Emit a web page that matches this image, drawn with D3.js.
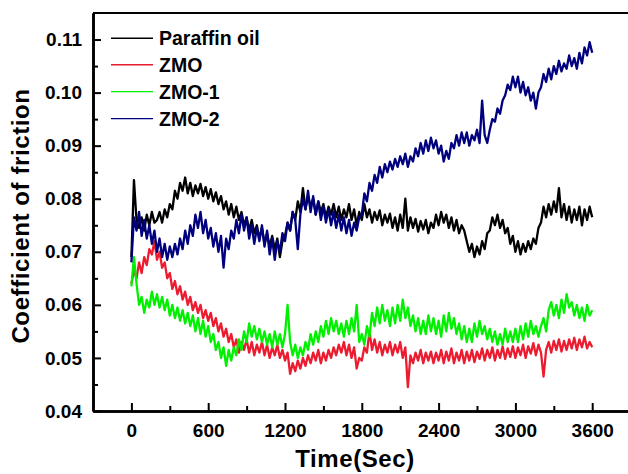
<!DOCTYPE html>
<html><head><meta charset="utf-8">
<script src="https://cdn.jsdelivr.net/npm/d3@7/dist/d3.min.js"></script>
<style>
html,body{margin:0;padding:0;background:#fff;}
svg{display:block;}
text{font-family:"Liberation Sans",Arial,sans-serif;font-weight:bold;fill:#000;}
</style></head>
<body>
<svg id="chart" width="628" height="474"></svg>
<script>
// sample step (s) for all series
const timeStep = 20;
const seriesNames = ["Paraffin oil", "ZMO", "ZMO-1", "ZMO-2"];
const seriesColors = ["#000000", "#ec1c30", "#00f000", "#00007f"];
const xTicks = [0, 600, 1200, 1800, 2400, 3000, 3600];
const yTicks = [0.04, 0.05, 0.06, 0.07, 0.08, 0.09, 0.10, 0.11];

const paraffin = [
0.0690,0.0835,0.0760,0.0745,0.0765,0.0740,0.0770,0.0750,0.0775,0.0755,
0.0760,0.0775,0.0755,0.0780,0.0765,0.0790,0.0780,0.0815,0.0800,0.0830,
0.0815,0.0840,0.0810,0.0830,0.0805,0.0825,0.0810,0.0828,0.0805,0.0822,
0.0800,0.0818,0.0795,0.0812,0.0790,0.0805,0.0780,0.0795,0.0770,0.0790,
0.0765,0.0785,0.0760,0.0775,0.0750,0.0765,0.0740,0.0760,0.0735,0.0750,
0.0725,0.0745,0.0715,0.0735,0.0710,0.0730,0.0705,0.0725,0.0690,0.0720,
0.0730,0.0755,0.0740,0.0775,0.0760,0.0795,0.0775,0.0820,0.0780,0.0805,
0.0785,0.0800,0.0770,0.0795,0.0775,0.0790,0.0765,0.0785,0.0770,0.0790,
0.0765,0.0785,0.0760,0.0780,0.0765,0.0790,0.0760,0.0780,0.0750,0.0775,
0.0760,0.0790,0.0765,0.0780,0.0755,0.0775,0.0760,0.0778,0.0750,0.0770,
0.0755,0.0772,0.0745,0.0765,0.0740,0.0770,0.0745,0.0800,0.0740,0.0765,
0.0745,0.0762,0.0738,0.0758,0.0742,0.0760,0.0735,0.0755,0.0745,0.0770,
0.0750,0.0775,0.0755,0.0770,0.0745,0.0765,0.0740,0.0760,0.0735,0.0750,
0.0740,0.0720,0.0700,0.0715,0.0690,0.0710,0.0695,0.0720,0.0705,0.0735,
0.0740,0.0765,0.0750,0.0770,0.0745,0.0760,0.0735,0.0745,0.0715,0.0730,
0.0700,0.0720,0.0695,0.0715,0.0700,0.0720,0.0705,0.0725,0.0715,0.0745,
0.0755,0.0785,0.0765,0.0790,0.0770,0.0795,0.0775,0.0820,0.0765,0.0790,
0.0760,0.0785,0.0755,0.0780,0.0760,0.0785,0.0750,0.0780,0.0760,0.0785,
0.0765];

const zmo = [
0.0640,0.0665,0.0650,0.0680,0.0660,0.0690,0.0675,0.0705,0.0695,0.0720,
0.0685,0.0700,0.0670,0.0680,0.0650,0.0660,0.0630,0.0645,0.0620,0.0635,
0.0610,0.0625,0.0600,0.0615,0.0590,0.0605,0.0585,0.0600,0.0575,0.0590,
0.0570,0.0585,0.0560,0.0575,0.0550,0.0565,0.0540,0.0555,0.0530,0.0545,
0.0520,0.0535,0.0510,0.0530,0.0515,0.0535,0.0510,0.0530,0.0505,0.0525,
0.0510,0.0530,0.0505,0.0525,0.0500,0.0520,0.0505,0.0525,0.0500,0.0515,
0.0495,0.0510,0.0470,0.0490,0.0475,0.0495,0.0480,0.0500,0.0485,0.0505,
0.0490,0.0510,0.0495,0.0515,0.0490,0.0510,0.0495,0.0515,0.0500,0.0520,
0.0505,0.0525,0.0510,0.0530,0.0505,0.0525,0.0500,0.0520,0.0480,0.0500,
0.0495,0.0520,0.0510,0.0550,0.0515,0.0535,0.0510,0.0530,0.0505,0.0525,
0.0510,0.0530,0.0505,0.0525,0.0510,0.0530,0.0500,0.0520,0.0445,0.0505,
0.0490,0.0510,0.0495,0.0515,0.0490,0.0510,0.0495,0.0512,0.0490,0.0510,
0.0495,0.0515,0.0490,0.0512,0.0495,0.0518,0.0490,0.0510,0.0495,0.0515,
0.0490,0.0512,0.0495,0.0515,0.0492,0.0512,0.0498,0.0518,0.0495,0.0515,
0.0500,0.0520,0.0495,0.0515,0.0500,0.0522,0.0498,0.0518,0.0502,0.0522,
0.0500,0.0520,0.0505,0.0525,0.0500,0.0522,0.0508,0.0528,0.0505,0.0525,
0.0510,0.0465,0.0515,0.0530,0.0510,0.0532,0.0515,0.0535,0.0512,0.0532,
0.0515,0.0535,0.0518,0.0538,0.0515,0.0535,0.0520,0.0540,0.0518,0.0530,
0.0520];

const zmo1 = [
0.0635,0.0690,0.0640,0.0600,0.0615,0.0585,0.0610,0.0595,0.0625,0.0600,
0.0620,0.0595,0.0615,0.0590,0.0610,0.0580,0.0600,0.0575,0.0595,0.0570,
0.0590,0.0565,0.0585,0.0560,0.0580,0.0550,0.0575,0.0545,0.0570,0.0540,
0.0560,0.0530,0.0545,0.0515,0.0530,0.0500,0.0520,0.0485,0.0515,0.0495,
0.0520,0.0505,0.0535,0.0515,0.0550,0.0530,0.0565,0.0540,0.0560,0.0535,
0.0555,0.0530,0.0550,0.0525,0.0545,0.0520,0.0550,0.0525,0.0545,0.0520,
0.0545,0.0600,0.0530,0.0505,0.0525,0.0500,0.0520,0.0505,0.0530,0.0515,
0.0545,0.0525,0.0550,0.0530,0.0560,0.0540,0.0570,0.0545,0.0575,0.0550,
0.0570,0.0545,0.0565,0.0540,0.0570,0.0545,0.0575,0.0550,0.0600,0.0530,
0.0545,0.0525,0.0560,0.0540,0.0585,0.0560,0.0595,0.0565,0.0600,0.0570,
0.0590,0.0560,0.0595,0.0565,0.0600,0.0570,0.0610,0.0575,0.0595,0.0560,
0.0580,0.0550,0.0575,0.0545,0.0570,0.0545,0.0580,0.0550,0.0575,0.0545,
0.0570,0.0540,0.0580,0.0550,0.0585,0.0555,0.0575,0.0545,0.0565,0.0535,
0.0560,0.0530,0.0555,0.0530,0.0565,0.0540,0.0570,0.0545,0.0560,0.0535,
0.0555,0.0530,0.0550,0.0525,0.0545,0.0525,0.0555,0.0530,0.0550,0.0530,
0.0555,0.0530,0.0560,0.0535,0.0565,0.0540,0.0570,0.0545,0.0560,0.0540,
0.0560,0.0575,0.0550,0.0590,0.0605,0.0580,0.0600,0.0575,0.0610,0.0585,
0.0620,0.0595,0.0605,0.0580,0.0600,0.0575,0.0595,0.0570,0.0600,0.0580,
0.0590];

const zmo2 = [
0.0680,0.0765,0.0740,0.0775,0.0730,0.0760,0.0725,0.0750,0.0715,0.0740,
0.0700,0.0725,0.0690,0.0715,0.0685,0.0710,0.0690,0.0715,0.0695,0.0725,
0.0705,0.0740,0.0715,0.0750,0.0730,0.0770,0.0745,0.0775,0.0735,0.0760,
0.0725,0.0745,0.0710,0.0735,0.0700,0.0730,0.0670,0.0725,0.0705,0.0740,
0.0725,0.0760,0.0735,0.0770,0.0740,0.0765,0.0725,0.0750,0.0715,0.0745,
0.0720,0.0750,0.0710,0.0740,0.0695,0.0725,0.0685,0.0720,0.0700,0.0735,
0.0720,0.0755,0.0740,0.0775,0.0760,0.0705,0.0770,0.0800,0.0780,0.0815,
0.0775,0.0805,0.0770,0.0795,0.0760,0.0785,0.0755,0.0780,0.0750,0.0775,
0.0745,0.0770,0.0740,0.0765,0.0735,0.0760,0.0730,0.0755,0.0740,0.0765,
0.0770,0.0810,0.0795,0.0830,0.0815,0.0845,0.0830,0.0860,0.0840,0.0865,
0.0850,0.0870,0.0855,0.0875,0.0860,0.0880,0.0865,0.0885,0.0860,0.0880,
0.0870,0.0895,0.0880,0.0905,0.0885,0.0910,0.0890,0.0915,0.0895,0.0910,
0.0885,0.0900,0.0870,0.0890,0.0875,0.0905,0.0895,0.0920,0.0900,0.0925,
0.0905,0.0925,0.0900,0.0920,0.0910,0.0930,0.0905,0.0985,0.0920,0.0905,
0.0930,0.0950,0.0945,0.0970,0.0960,0.0985,0.0995,0.1015,0.1005,0.1030,
0.1010,0.1030,0.1000,0.1020,0.0995,0.1010,0.0985,0.1000,0.0970,0.1000,
0.1010,0.1035,0.1020,0.1045,0.1025,0.1050,0.1035,0.1060,0.1040,0.1055,
0.1045,0.1070,0.1050,0.1065,0.1045,0.1075,0.1055,0.1085,0.1070,0.1095,
0.1075];

const allSeries = [paraffin, zmo, zmo1, zmo2];

const svg = d3.select("#chart");
const plotLeft = 93, plotTop = 13, plotBottom = 411;
const x = d3.scaleLinear().domain([-300, 3900]).range([plotLeft, 630.6]);
const y = d3.scaleLinear().domain([0.04, 0.115]).range([plotBottom, plotTop]);

// lines
const line = d3.line().x((d, i) => x(i * timeStep)).y(d => y(d));
const plot = svg.append("g");
allSeries.forEach((s, k) => {
  plot.append("path").datum(s)
    .attr("fill", "none")
    .attr("stroke", seriesColors[k])
    .attr("stroke-width", 2.3)
    .attr("stroke-linejoin", "round")
    .attr("d", line);
});

// frame top
svg.append("line").attr("x1", plotLeft).attr("x2", 640).attr("y1", plotTop).attr("y2", plotTop)
  .attr("stroke", "#000").attr("stroke-width", 2.2);

// x axis
const xMinor = d3.range(300, 3900, 600);
const gx = svg.append("g").attr("transform", `translate(0,${plotBottom})`);
gx.call(d3.axisBottom(x).tickValues(xMinor).tickSizeInner(-5).tickSizeOuter(0).tickFormat(""));
gx.selectAll(".tick line").attr("stroke-width", 2);
const gx2 = svg.append("g").attr("transform", `translate(0,${plotBottom})`);
gx2.call(d3.axisBottom(x).tickValues(xTicks).tickSizeInner(-8).tickSizeOuter(0).tickPadding(13).tickFormat(d3.format("d")));
gx2.selectAll(".tick line").attr("stroke-width", 2);
gx2.selectAll("text").attr("font-size", 19).attr("font-family", null);
[gx, gx2].forEach(g => g.select(".domain").attr("stroke-width", 2.6));

// y axis
const yMinor = [0.045, 0.055, 0.065, 0.075, 0.085, 0.095, 0.105];
const gy = svg.append("g").attr("transform", `translate(${plotLeft},0)`);
gy.call(d3.axisLeft(y).tickValues(yMinor).tickSizeInner(-5).tickSizeOuter(0).tickFormat(""));
gy.selectAll(".tick line").attr("stroke-width", 2);
const gy2 = svg.append("g").attr("transform", `translate(${plotLeft},0)`);
gy2.call(d3.axisLeft(y).tickValues(yTicks).tickSizeInner(-8).tickSizeOuter(0).tickPadding(11).tickFormat(d3.format(".2f")));
gy2.selectAll(".tick line").attr("stroke-width", 2);
gy2.selectAll("text").attr("font-size", 19).attr("font-family", null);
[gy, gy2].forEach(g => g.select(".domain").attr("stroke-width", 2.6));
svg.selectAll(".tick text").style("font-weight", "bold").style("font-family", '"Liberation Sans",Arial,sans-serif');

// titles
svg.append("text").attr("x", 355).attr("y", 467).attr("text-anchor", "middle")
  .attr("font-size", 24).attr("letter-spacing", 0.6).text("Time(Sec)");
svg.append("text").attr("transform", "translate(29,216) rotate(-90)").attr("text-anchor", "middle")
  .attr("font-size", 24).attr("letter-spacing", 0.6).text("Coefficient of friction");

// legend
const legRows = [38.3, 64.8, 91.6, 118.6];
seriesNames.forEach((n, k) => {
  svg.append("line").attr("x1", 111).attr("x2", 153).attr("y1", legRows[k]).attr("y2", legRows[k])
    .attr("stroke", seriesColors[k]).attr("stroke-width", 1.4);
  svg.append("text").attr("x", 159).attr("y", legRows[k] + 7).attr("font-size", 19.5).text(n);
});
</script>
</body></html>
